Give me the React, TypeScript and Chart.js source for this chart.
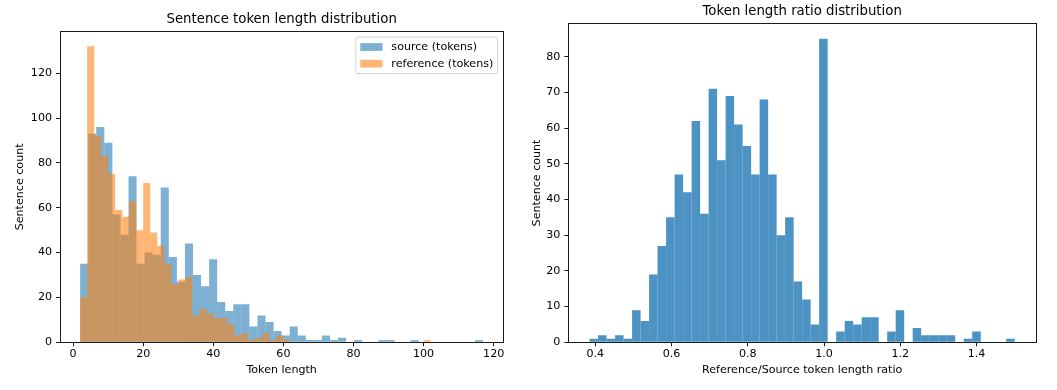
import React, { useEffect, useRef } from "react";
import { Chart, registerables } from "chart.js";

Chart.register(...registerables);

const FONT = "'DejaVu Sans', sans-serif";
const TEXT_COLOR = "#000000";
const FRAME_COLOR = "#1a1a1a";

// ---------- Left chart: sentence token length histograms (50 bins each) ----------
const SOURCE_RANGE = [2, 117];
const REFERENCE_RANGE = [2, 102];
const SOURCE_COUNTS = [
  35, 93, 96, 89, 57, 48, 74, 35, 40, 39,
  69, 38, 27, 44, 30, 25, 37, 18, 14, 17,
  17, 7, 12, 9, 5, 3, 7, 3, 1, 1,
  3, 1, 2, 0, 1, 0, 0, 1, 1, 0,
  0, 1, 0, 0, 0, 0, 0, 0, 0, 1,
];
const REFERENCE_COUNTS = [
  20, 132, 92, 83, 75, 59, 56, 63, 50, 71,
  49, 43, 35, 26, 28, 29, 12, 15, 13, 11,
  11, 8, 3, 4, 1, 2, 4, 1, 3, 1,
  0, 0, 0, 0, 0, 0, 0, 0, 0, 0,
  0, 0, 0, 0, 0, 0, 0, 0, 0, 1,
];
const LEFT_X_TICKS = [0, 20, 40, 60, 80, 100, 120];
const LEFT_Y_TICKS = [0, 20, 40, 60, 80, 100, 120];

// ---------- Right chart: reference/source ratio histogram (50 bins) ----------
const RATIO_RANGE = [0.385, 1.5];
const RATIO_COUNTS = [
  1, 2, 1, 2, 1, 9, 6, 19, 27, 35,
  47, 42, 62, 36, 71, 51, 69, 61, 55, 47,
  68, 47, 30, 35, 17, 12, 5, 85, 0, 3,
  6, 5, 7, 7, 0, 3, 9, 0, 4, 2,
  2, 2, 2, 0, 1, 3, 0, 0, 0, 1,
];
const RIGHT_X_TICKS = [0.4, 0.6, 0.8, 1.0, 1.2, 1.4];
const RIGHT_Y_TICKS = [0, 10, 20, 30, 40, 50, 60, 70, 80];

function binCenters(range: number[], n: number): number[] {
  const w = (range[1] - range[0]) / n;
  const out: number[] = [];
  for (let i = 0; i < n; i++) out.push(range[0] + (i + 0.5) * w);
  return out;
}

function histData(range: number[], counts: number[]) {
  const centers = binCenters(range, counts.length);
  return counts.map((c, i) => ({ x: centers[i], y: c }));
}

function margin(lo: number, hi: number) {
  const m = (hi - lo) * 0.05;
  return [lo - m, hi + m];
}

const mplLegend = {
  id: "mplLegend",
  afterDraw(chart: any) {
    const opts = chart.options.plugins.mplLegend;
    if (!opts || !opts.display) return;
    const ctx = chart.ctx;
    const fs = opts.fontSize;
    ctx.save();
    ctx.font = `${fs}px ${FONT}`;
    const items = chart.data.datasets.map((d: any) => ({ label: d.label, color: d.backgroundColor }));
    const textW = Math.max(...items.map((it: any) => ctx.measureText(it.label).width));
    const pad = 0.4 * fs;
    const handleLen = 2 * fs;
    const handlePad = 0.8 * fs;
    const rowH = fs;
    const spacing = 0.5 * fs;
    const axPad = 0.5 * fs;
    const w = pad * 2 + handleLen + handlePad + textW;
    const h = pad * 2 + items.length * rowH + (items.length - 1) * spacing;
    const { right, top } = chart.chartArea;
    const x0 = right - axPad - w;
    const y0 = top + axPad;
    const r = 0.2 * fs;
    ctx.beginPath();
    ctx.moveTo(x0 + r, y0);
    ctx.lineTo(x0 + w - r, y0);
    ctx.arcTo(x0 + w, y0, x0 + w, y0 + r, r);
    ctx.lineTo(x0 + w, y0 + h - r);
    ctx.arcTo(x0 + w, y0 + h, x0 + w - r, y0 + h, r);
    ctx.lineTo(x0 + r, y0 + h);
    ctx.arcTo(x0, y0 + h, x0, y0 + h - r, r);
    ctx.lineTo(x0, y0 + r);
    ctx.arcTo(x0, y0, x0 + r, y0, r);
    ctx.closePath();
    ctx.fillStyle = "rgba(255,255,255,0.8)";
    ctx.fill();
    ctx.lineWidth = 1;
    ctx.strokeStyle = "rgba(204,204,204,0.9)";
    ctx.stroke();
    items.forEach((it: any, i: number) => {
      const cy = y0 + pad + i * (rowH + spacing) + rowH / 2;
      ctx.fillStyle = it.color;
      ctx.fillRect(x0 + pad, cy - 0.35 * fs, handleLen, 0.7 * fs);
      ctx.fillStyle = TEXT_COLOR;
      ctx.textBaseline = "middle";
      ctx.textAlign = "left";
      ctx.fillText(it.label, x0 + pad + handleLen + handlePad, cy + 0.5);
    });
    ctx.restore();
  },
};

const tickFont = { family: FONT, size: 11.1, lineHeight: 1.2 };
const labelFont = { family: FONT, size: 11.1, lineHeight: 1.2 };
const titleFont = { family: FONT, size: 13.3, weight: "normal" as const, lineHeight: 1.2 };

function axisGrid() {
  return {
    display: true,
    offset: false,
    drawOnChartArea: false,
    drawTicks: true,
    tickLength: 4,
    tickColor: FRAME_COLOR,
    tickWidth: 1,
  };
}

function frameAxis(position: string, min: number, max: number) {
  const horizontal = position === "top" || position === "bottom";
  return {
    type: "linear",
    position,
    min,
    max,
    offset: false,
    ticks: { display: false },
    grid: { display: false, offset: false },
    border: { display: true, color: FRAME_COLOR, width: 1 },
    afterFit: (s: any) => {
      if (horizontal) s.height = 0;
      else s.width = 0;
    },
  };
}

function tickSetter(values: number[]) {
  return (s: any) => {
    s.ticks = values.map((v) => ({ value: v }));
  };
}

function makeLeftConfig(): any {
  const [xMin, xMax] = margin(
    Math.min(SOURCE_RANGE[0], REFERENCE_RANGE[0]),
    Math.max(SOURCE_RANGE[1], REFERENCE_RANGE[1])
  );
  const yMax = Math.max(...SOURCE_COUNTS, ...REFERENCE_COUNTS) * 1.05;
  const common = {
    type: "bar",
    borderWidth: 0,
    barPercentage: 1,
    categoryPercentage: 1,
    grouped: false,
    inflateAmount: 0,
    yAxisID: "y",
  };
  return {
    type: "bar",
    data: {
      datasets: [
        {
          ...common,
          label: "source (tokens)",
          data: histData(SOURCE_RANGE, SOURCE_COUNTS),
          xAxisID: "x",
          backgroundColor: "rgba(31,119,180,0.58)",
          order: 1,
        },
        {
          ...common,
          label: "reference (tokens)",
          data: histData(REFERENCE_RANGE, REFERENCE_COUNTS),
          xAxisID: "xRef",
          backgroundColor: "rgba(255,127,14,0.58)",
          order: 0,
        },
      ],
    },
    options: {
      animation: false,
      responsive: false,
      devicePixelRatio: 1,
      layout: { padding: { left: 0, right: 26.7, top: 0, bottom: 0 }, autoPadding: false },
      plugins: {
        legend: { display: false },
        tooltip: { enabled: false },
        title: {
          display: true,
          fullSize: false,
          text: "Sentence token length distribution",
          font: titleFont,
          color: TEXT_COLOR,
          padding: { top: 12, bottom: 3.5 },
        },
        mplLegend: { display: true, fontSize: 11.1 },
      },
      scales: {
        x: {
          type: "linear",
          position: "bottom",
          min: xMin,
          max: xMax,
          offset: false,
          afterBuildTicks: tickSetter(LEFT_X_TICKS),
          ticks: { font: tickFont, color: TEXT_COLOR, padding: 1, maxRotation: 0, autoSkip: false, callback: (v: number) => String(v) },
          grid: axisGrid(),
          border: { display: true, color: FRAME_COLOR, width: 1 },
          title: { display: true, text: "Token length", font: labelFont, color: TEXT_COLOR, padding: { top: 0, bottom: 13.3 } },
          afterFit: (s: any) => { s.height = 47.7; },
        },
        xRef: {
          type: "linear",
          position: "bottom",
          display: false,
          offset: false,
          min: xMin,
          max: xMax,
          grid: { offset: false },
          afterFit: (s: any) => { s.height = 0; },
        },
        y: {
          type: "linear",
          position: "left",
          min: 0,
          max: yMax,
          afterBuildTicks: tickSetter(LEFT_Y_TICKS),
          ticks: { font: tickFont, color: TEXT_COLOR, padding: 4, autoSkip: false, callback: (v: number) => String(v) },
          grid: axisGrid(),
          border: { display: true, color: FRAME_COLOR, width: 1 },
          title: { display: true, text: "Sentence count", font: labelFont, color: TEXT_COLOR, padding: { top: 13.4, bottom: 0 } },
          afterFit: (s: any) => { s.width = 60; },
        },
        xTop: frameAxis("top", xMin, xMax),
        yRight: frameAxis("right", 0, yMax),
      },
    },
    plugins: [mplLegend],
  };
}

function makeRightConfig(): any {
  const [xMin, xMax] = margin(RATIO_RANGE[0], RATIO_RANGE[1]);
  const yMax = Math.max(...RATIO_COUNTS) * 1.05;
  return {
    type: "bar",
    data: {
      datasets: [
        {
          type: "bar",
          label: "ratio",
          data: histData(RATIO_RANGE, RATIO_COUNTS),
          xAxisID: "x",
          yAxisID: "y",
          backgroundColor: "rgba(31,119,180,0.8)",
          borderWidth: 0,
          barPercentage: 1,
          categoryPercentage: 1,
          grouped: false,
          inflateAmount: 0,
        },
      ],
    },
    options: {
      animation: false,
      responsive: false,
      devicePixelRatio: 1,
      layout: { padding: { left: 0, right: 21, top: 0, bottom: 0 }, autoPadding: false },
      plugins: {
        legend: { display: false },
        tooltip: { enabled: false },
        title: {
          display: true,
          fullSize: false,
          text: "Token length ratio distribution",
          font: titleFont,
          color: TEXT_COLOR,
          padding: { top: 4, bottom: 3.7 },
        },
      },
      scales: {
        x: {
          type: "linear",
          position: "bottom",
          min: xMin,
          max: xMax,
          offset: false,
          afterBuildTicks: tickSetter(RIGHT_X_TICKS),
          ticks: { font: tickFont, color: TEXT_COLOR, padding: 1, maxRotation: 0, autoSkip: false, callback: (v: number) => v.toFixed(1) },
          grid: axisGrid(),
          border: { display: true, color: FRAME_COLOR, width: 1 },
          title: { display: true, text: "Reference/Source token length ratio", font: labelFont, color: TEXT_COLOR, padding: { top: 0, bottom: 13.3 } },
          afterFit: (s: any) => { s.height = 47.7; },
        },
        y: {
          type: "linear",
          position: "left",
          min: 0,
          max: yMax,
          afterBuildTicks: tickSetter(RIGHT_Y_TICKS),
          ticks: { font: tickFont, color: TEXT_COLOR, padding: 4, autoSkip: false, callback: (v: number) => String(v) },
          grid: axisGrid(),
          border: { display: true, color: FRAME_COLOR, width: 1 },
          title: { display: true, text: "Sentence count", font: labelFont, color: TEXT_COLOR, padding: { top: 0.4, bottom: 0 } },
          afterFit: (s: any) => { s.width = 38.3; },
        },
        xTop: frameAxis("top", xMin, xMax),
        yRight: frameAxis("right", 0, yMax),
      },
    },
  };
}

function ChartCanvas(props: { width: number; height: number; left: number; makeConfig: () => any }) {
  const ref = useRef<HTMLCanvasElement | null>(null);
  useEffect(() => {
    if (!ref.current) return;
    const chart = new Chart(ref.current, props.makeConfig());
    return () => chart.destroy();
  }, []);
  return (
    <canvas
      ref={ref}
      width={props.width}
      height={props.height}
      style={{ position: "absolute", left: props.left, top: 0, width: props.width, height: props.height }}
    />
  );
}

export default function App() {
  return (
    <div style={{ position: "absolute", left: 0, top: 0, width: 1057, height: 390, background: "#ffffff", overflow: "hidden" }}>
      <ChartCanvas width={530} height={390} left={0} makeConfig={makeLeftConfig} />
      <ChartCanvas width={527} height={390} left={530} makeConfig={makeRightConfig} />
    </div>
  );
}
